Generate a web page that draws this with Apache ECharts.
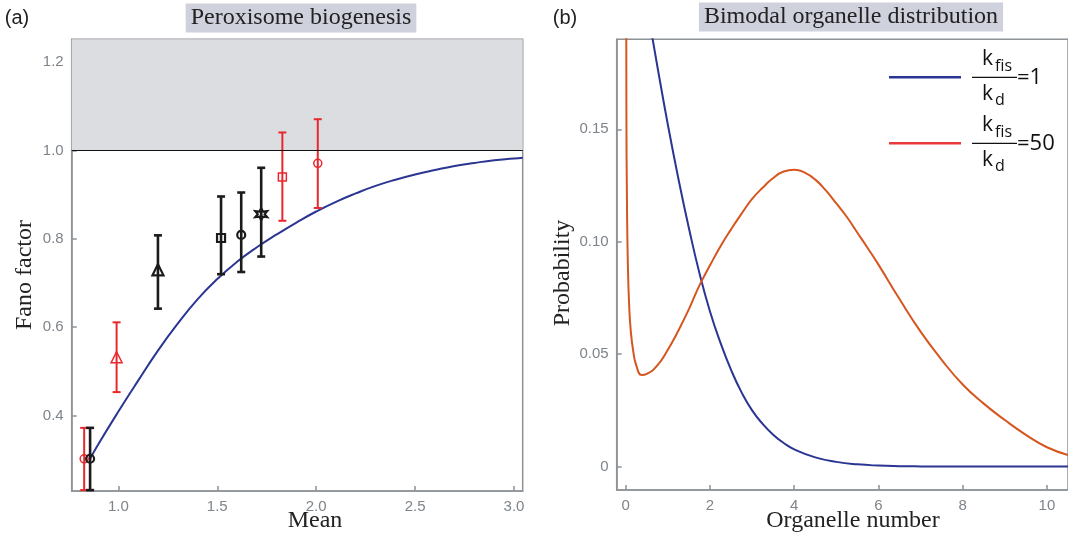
<!DOCTYPE html>
<html>
<head>
<meta charset="utf-8">
<script src="https://cdn.jsdelivr.net/npm/echarts@6/dist/echarts.min.js"></script>
<style>
  html, body { margin: 0; padding: 0; background: #fff; }
  #chart { width: 1068px; height: 537px; }
</style>
</head>
<body>
<div id="chart"></div>
<script>
// (a) model curve: Fano factor vs mean
const meanCurve = [0.857, 0.9, 1.0, 1.1, 1.2, 1.3, 1.4, 1.5, 1.6, 1.7, 1.8, 1.9, 2.0, 2.1, 2.2, 2.3, 2.4, 2.5, 2.6, 2.7, 2.8, 2.9, 3.0, 3.044];
const fanoCurve = [0.302, 0.336, 0.409, 0.479, 0.547, 0.608, 0.663, 0.709, 0.748, 0.781, 0.810, 0.837, 0.862, 0.884, 0.903, 0.920, 0.934, 0.946, 0.956, 0.965, 0.972, 0.978, 0.982, 0.984];

// (a) measured points with error bars
const redMean = [0.827, 0.991, 1.829, 2.008];
const redFano = [0.302, 0.532, 0.940, 0.971];
const redLow = [0.231, 0.453, 0.841, 0.870];
const redHigh = [0.372, 0.611, 1.041, 1.071];
const redShape = ["circle", "triangle", "rect", "circle"];

const blackMean = [0.857, 1.200, 1.519, 1.621, 1.722];
const blackFano = [0.302, 0.730, 0.802, 0.809, 0.856];
const blackLow = [0.231, 0.642, 0.720, 0.725, 0.760];
const blackHigh = [0.372, 0.808, 0.896, 0.905, 0.961];
const blackShape = ["circle", "triangle", "rect", "circle", "star"];

// (b) organelle number distributions
const orgX1 = [0.5, 0.75, 1.0, 1.25, 1.5, 1.75, 2.0, 2.25, 2.5, 2.75, 3.0, 3.25, 3.5, 3.75, 4.0, 4.5, 5.0, 5.5, 6.0, 6.5, 7.0, 8.0, 9.0, 10.0, 10.5];
const prob1 = [0.205, 0.178, 0.152, 0.128, 0.106, 0.086, 0.069, 0.055, 0.043, 0.033, 0.025, 0.019, 0.0142, 0.0105, 0.0077, 0.0041, 0.0021, 0.001, 0.00045, 0.0002, 0.0001, 0.00002, 0, 0, 0];

const orgX2 = [0.005, 0.015, 0.03, 0.05, 0.08, 0.12, 0.18, 0.25, 0.38, 0.5, 0.75, 1.0, 1.25, 1.5, 1.75, 2.0, 2.25, 2.5, 2.75, 3.0, 3.25, 3.5, 3.75, 4.0, 4.25, 4.5, 4.75, 5.0, 5.25, 5.5, 5.75, 6.0, 6.5, 7.0, 7.5, 8.0, 8.5, 9.0, 9.5, 10.0, 10.5];
const prob2 = [0.30, 0.16, 0.115, 0.09, 0.072, 0.060, 0.051, 0.045, 0.0407, 0.0412, 0.045, 0.052, 0.0605, 0.070, 0.0806, 0.0895, 0.098, 0.1055, 0.1125, 0.119, 0.124, 0.1283, 0.1312, 0.1320, 0.1307, 0.1276, 0.1228, 0.117, 0.111, 0.104, 0.097, 0.0898, 0.0745, 0.0600, 0.0475, 0.0365, 0.0280, 0.0207, 0.0141, 0.0086, 0.0052];

const ticksA_x = [1.0, 1.5, 2.0, 2.5, 3.0];
const ticksA_y = [0.4, 0.6, 0.8, 1.0, 1.2];
const ticksB_x = [0, 2, 4, 6, 8, 10];
const ticksB_y = [0, 0.05, 0.10, 0.15];

const BLUE = "#2b3592";
const ORANGE = "#d5561f";
const RED = "#e9282d";
const BLACK = "#1b1b1b";
const FRAME = "#8d9297";
const TICKTXT = "#7e848a";
const SERIF = "'Liberation Serif', 'Times New Roman', serif";
const SANS = "'Liberation Sans', Arial, sans-serif";

// six-pointed star symbol
let starPath = "path://";
for (let i = 0; i < 12; i++) {
  const a = (-90 + i * 30) * Math.PI / 180;
  const r = i % 2 === 0 ? 10 : 5;
  starPath += (i === 0 ? "M" : "L") + (r * Math.cos(a)).toFixed(2) + " " + (r * Math.sin(a)).toFixed(2) + " ";
}
starPath += "Z";

function symbolOf(s) {
  return s === "star" ? starPath : s;
}

function pointsData(xs, ys, shapes) {
  return xs.map((x, i) => ({
    value: [x, ys[i]],
    symbol: symbolOf(shapes[i]),
    symbolSize: shapes[i] === "triangle" ? 11 : shapes[i] === "star" ? 12 : 8
  }));
}

function errorData(xs, lo, hi) {
  return xs.map((x, i) => [x, lo[i], hi[i]]);
}

function errorBars(color, width) {
  return function (params, api) {
    const x = api.value(0);
    const p1 = api.coord([x, api.value(1)]);
    const p2 = api.coord([x, api.value(2)]);
    const cap = 4;
    const style = { stroke: color, lineWidth: width };
    return {
      type: "group",
      children: [
        { type: "line", shape: { x1: p1[0], y1: p1[1], x2: p2[0], y2: p2[1] }, style: style },
        { type: "line", shape: { x1: p1[0] - cap, y1: p1[1], x2: p1[0] + cap, y2: p1[1] }, style: style },
        { type: "line", shape: { x1: p2[0] - cap, y1: p2[1], x2: p2[0] + cap, y2: p2[1] }, style: style }
      ]
    };
  };
}

function axisCommon(ticks, fmt, extra) {
  return Object.assign({
    type: "value",
    axisLine: { show: true, onZero: false, lineStyle: { color: FRAME, width: 1.5 } },
    splitLine: { show: false },
    axisTick: { show: true, inside: true, length: 5, customValues: ticks, lineStyle: { color: FRAME, width: 1.5 } },
    axisLabel: { customValues: ticks, formatter: fmt, color: TICKTXT, fontFamily: SANS, fontSize: 15, margin: 8 }
  }, extra);
}

function txt(x, y, text, font, size, color, align, extra) {
  return {
    type: "text",
    x: x, y: y,
    style: Object.assign({
      text: text,
      fill: color || "#222",
      fontFamily: font,
      fontSize: size,
      textAlign: align || "center",
      textVerticalAlign: "middle",
      align: align || "center",
      verticalAlign: "middle"
    }, extra || {})
  };
}

function legendEntry(cy, color, value) {
  const f = "'Open Sans', sans-serif";
  return [
    { type: "line", shape: { x1: 889, y1: cy, x2: 961, y2: cy }, style: { stroke: color, lineWidth: 2.5 } },
    txt(982, cy - 18, "k", f, 21, "#111", "left"),
    txt(995, cy - 11, "fis", f, 16, "#111", "left"),
    { type: "line", shape: { x1: 972, y1: cy, x2: 1017, y2: cy }, style: { stroke: "#111", lineWidth: 1.2 } },
    txt(982, cy + 17, "k", f, 21, "#111", "left"),
    txt(995, cy + 23, "d", f, 16, "#111", "left"),
    txt(1017, cy, "=" + value, f, 22, "#111", "left")
  ];
}

const chart = echarts.init(document.getElementById("chart"), null, { renderer: "canvas" });

const option = {
  animation: false,
  backgroundColor: "#fff",
  grid: [
    { left: 71.7, top: 39.3, width: 451, height: 451.7, show: true, borderColor: FRAME, borderWidth: 1.5, backgroundColor: "transparent" },
    { left: 616.7, top: 39.3, width: 464.5, height: 450.7, show: true, borderColor: FRAME, borderWidth: 1.5, backgroundColor: "transparent" }
  ],
  xAxis: [
    axisCommon(ticksA_x, v => v.toFixed(1), { gridIndex: 0, min: 0.764, max: 3.044 }),
    axisCommon(ticksB_x, v => String(v), { gridIndex: 1, min: -0.215, max: 10.5 })
  ],
  yAxis: [
    axisCommon(ticksA_y, v => v.toFixed(1), { gridIndex: 0, min: 0.229, max: 1.252 }),
    axisCommon(ticksB_y, v => (v === 0 ? "0" : v.toFixed(2)), { gridIndex: 1, min: -0.0104, max: 0.19 })
  ],
  series: [
    {
      name: "model",
      type: "line",
      xAxisIndex: 0, yAxisIndex: 0,
      data: meanCurve.map((x, i) => [x, fanoCurve[i]]),
      showSymbol: false,
      smooth: true,
      lineStyle: { color: BLUE, width: 2 },
      z: 3,
      markArea: {
        silent: true,
        itemStyle: { color: "#dcdde1" },
        data: [[{ yAxis: 1.0 }, { yAxis: 1.252 }]]
      },
      markLine: {
        silent: true,
        symbol: "none",
        label: { show: false },
        lineStyle: { color: "#111", width: 1.2, type: "solid" },
        data: [{ yAxis: 1.0 }]
      }
    },
    {
      name: "red bars",
      type: "custom",
      xAxisIndex: 0, yAxisIndex: 0,
      renderItem: errorBars(RED, 2),
      encode: { x: 0, y: [1, 2] },
      data: errorData(redMean, redLow, redHigh),
      z: 4
    },
    {
      name: "black bars",
      type: "custom",
      xAxisIndex: 0, yAxisIndex: 0,
      renderItem: errorBars(BLACK, 2.6),
      encode: { x: 0, y: [1, 2] },
      data: errorData(blackMean, blackLow, blackHigh),
      z: 4
    },
    {
      name: "red points",
      type: "scatter",
      xAxisIndex: 0, yAxisIndex: 0,
      data: pointsData(redMean, redFano, redShape),
      itemStyle: { color: "rgba(255,255,255,0)", borderColor: RED, borderWidth: 1.5, opacity: 1 },
      z: 5
    },
    {
      name: "black points",
      type: "scatter",
      xAxisIndex: 0, yAxisIndex: 0,
      data: pointsData(blackMean, blackFano, blackShape),
      itemStyle: { color: "rgba(255,255,255,0)", borderColor: BLACK, borderWidth: 2.2, opacity: 1 },
      z: 5
    },
    {
      name: "kfis/kd=1",
      type: "line",
      xAxisIndex: 1, yAxisIndex: 1,
      data: orgX1.map((x, i) => [x, prob1[i]]),
      showSymbol: false,
      smooth: true,
      clip: true,
      lineStyle: { color: BLUE, width: 2 }
    },
    {
      name: "kfis/kd=50",
      type: "line",
      xAxisIndex: 1, yAxisIndex: 1,
      data: orgX2.map((x, i) => [x, prob2[i]]),
      showSymbol: false,
      smooth: true,
      clip: true,
      lineStyle: { color: ORANGE, width: 2 }
    }
  ],
  graphic: [
    txt(17, 18, "(a)", SANS, 20, "#222"),
    txt(565, 18, "(b)", SANS, 20, "#222"),
    txt(301, 18, "Peroxisome biogenesis", SERIF, 24, "#222", "center", { backgroundColor: "#cfd1dd", padding: [3, 5, 2, 5] }),
    txt(851, 17, "Bimodal organelle distribution", SERIF, 24, "#222", "center", { backgroundColor: "#cfd1dd", padding: [3, 5, 2, 5] }),
    txt(304, 90, "De novo synthesis-fission-decay", SERIF, 24, "#222"),
    txt(315, 521, "Mean", SERIF, 24, "#222"),
    txt(853, 521, "Organelle number", SERIF, 24, "#222"),
    Object.assign(txt(25, 275, "Fano factor", SERIF, 24, "#222"), { rotation: Math.PI / 2 }),
    Object.assign(txt(563, 273, "Probability", SERIF, 24, "#222"), { rotation: Math.PI / 2 })
  ].concat(legendEntry(77.3, BLUE, "1"), legendEntry(143.3, "#e8393c", "50"))
};

chart.setOption(option);
</script>
</body>
</html>
